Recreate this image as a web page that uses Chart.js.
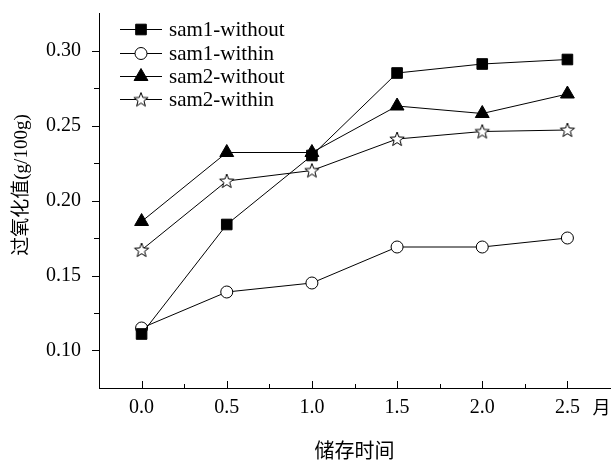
<!DOCTYPE html>
<html>
<head>
<meta charset="utf-8">
<script src="https://cdn.jsdelivr.net/npm/chart.js@4/dist/chart.umd.min.js"></script>
<style>
  html, body { margin: 0; padding: 0; background: #fff; }
  #wrap { width: 612px; height: 466px; }
</style>
</head>
<body>
<div id="wrap"><canvas id="peroxideChart" width="612" height="466"></canvas></div>
<script>
// storage time (months) and peroxide values (g/100g)
const months      = [0.0, 0.5, 1.0, 1.5, 2.0, 2.5];
const sam1Without = [0.111, 0.184, 0.230, 0.285, 0.291, 0.294];
const sam1Within  = [0.115, 0.139, 0.145, 0.169, 0.169, 0.175];
const sam2Without = [0.186, 0.232, 0.232, 0.263, 0.258, 0.271];
const sam2Within  = [0.167, 0.213, 0.220, 0.241, 0.246, 0.247];
const seriesNames = ['sam1-without', 'sam1-within', 'sam2-without', 'sam2-within'];
const xTitle = '储存时间';
const yTitle = '过氧化值(g/100g)';
const xUnit  = '月';

const serif = '"Liberation Serif", "Times New Roman", serif';
const cjk   = '"Noto Sans CJK SC", sans-serif';

// hollow five-point star marker
function makeStar() {
  const c = document.createElement('canvas');
  c.width = 18; c.height = 18;
  const g = c.getContext('2d');
  g.beginPath();
  for (let i = 0; i < 10; i++) {
    const r = i % 2 === 0 ? 7.5 : 3.1;
    const a = -Math.PI / 2 + i * Math.PI / 5;
    const px = 9 + r * Math.cos(a), py = 9.5 + r * Math.sin(a);
    if (i === 0) g.moveTo(px, py); else g.lineTo(px, py);
  }
  g.closePath();
  g.fillStyle = '#fff';
  g.fill();
  g.strokeStyle = '#000';
  g.lineWidth = 1;
  g.stroke();
  return c;
}

const toPoints = vals => months.map((m, i) => ({ x: m, y: vals[i] }));

function series(label, vals, style, radius, fill) {
  return {
    label: label,
    data: toPoints(vals),
    borderColor: '#000',
    borderWidth: 1,
    tension: 0,
    pointStyle: style,
    pointRadius: radius,
    pointHoverRadius: radius,
    pointBackgroundColor: fill,
    pointBorderColor: '#000',
    pointBorderWidth: 1,
  };
}

const isMajor = (v, step) => Math.abs(v / step - Math.round(v / step)) < 1e-6;

// ticks: y outward, x inward, major longer than minor; plus titles and legend
const decorPlugin = {
  id: 'decor',
  afterDraw(chart) {
    const ctx = chart.ctx;
    const xs = chart.scales.x, ys = chart.scales.y;
    const area = chart.chartArea;
    ctx.save();
    ctx.strokeStyle = '#000';
    ctx.lineWidth = 1;
    ctx.beginPath();
    ys.ticks.forEach(t => {
      const p = Math.round(ys.getPixelForValue(t.value)) + 0.5;
      if (p <= area.top + 1 || p >= area.bottom - 1) return;
      const len = isMajor(t.value, 0.05) ? 7 : 5;
      ctx.moveTo(area.left, p);
      ctx.lineTo(area.left - len, p);
    });
    xs.ticks.forEach(t => {
      const p = Math.round(xs.getPixelForValue(t.value)) + 0.5;
      if (p <= area.left + 1 || p >= area.right - 1) return;
      const len = isMajor(t.value, 0.5) ? 7 : 4;
      ctx.moveTo(p, area.bottom);
      ctx.lineTo(p, area.bottom - len);
    });
    ctx.stroke();

    ctx.fillStyle = '#000';
    // unit after last x label
    ctx.font = '18px ' + cjk;
    ctx.textAlign = 'center';
    ctx.textBaseline = 'middle';
    ctx.fillText(xUnit, xs.getPixelForValue(2.5) + 34, 407);

    // y title
    ctx.save();
    ctx.translate(22, 185);
    ctx.rotate(-Math.PI / 2);
    ctx.font = '19px ' + serif + ', ' + cjk;
    ctx.fillText(yTitle, 0, 0);
    ctx.restore();

    // legend
    const rows = [29, 53, 76, 99];
    chart.data.datasets.forEach((ds, i) => {
      const y = rows[i];
      ctx.beginPath();
      ctx.moveTo(120, y + 0.5);
      ctx.lineTo(162, y + 0.5);
      ctx.stroke();
      ctx.fillStyle = ds.pointBackgroundColor;
      ctx.strokeStyle = '#000';
      Chart.helpers.drawPoint(ctx, {
        pointStyle: ds.pointStyle, radius: ds.pointRadius, rotation: 0, borderWidth: 1
      }, 141, y + 0.5);
      ctx.fillStyle = '#000';
      ctx.font = '21px ' + serif;
      ctx.textAlign = 'left';
      ctx.fillText(ds.label, 169, y + 1);
    });
    ctx.restore();
  }
};

new Chart(document.getElementById('peroxideChart'), {
  type: 'line',
  data: {
    datasets: [
      series(seriesNames[0], sam1Without, 'rect', 7.5, '#000'),
      series(seriesNames[1], sam1Within, 'circle', 6, '#fff'),
      series(seriesNames[2], sam2Without, 'triangle', 8, '#000'),
      series(seriesNames[3], sam2Within, makeStar(), 7, '#fff'),
    ]
  },
  options: {
    responsive: false,
    animation: false,
    layout: { autoPadding: false, padding: { top: 13, right: 2, left: 0, bottom: 0 } },
    plugins: {
      legend: { display: false },
      tooltip: { enabled: false },
    },
    scales: {
      x: {
        type: 'linear',
        min: -0.25,
        max: 2.75,
        afterFit: s => { s.height = 78; s.paddingLeft = 0; s.paddingRight = 0; },
        ticks: {
          stepSize: 0.25,
          autoSkip: false,
          maxRotation: 0,
          padding: 0,
          color: '#000',
          font: { family: serif, size: 20 },
          callback: v => (isMajor(v, 0.5) && v >= 0 && v <= 2.5) ? v.toFixed(1) : '',
        },
        // invisible tick marks just to space the labels; real ticks drawn by the plugin
        grid: { drawOnChartArea: false, drawTicks: true, tickLength: 8, tickColor: 'rgba(0,0,0,0)' },
        border: { display: true, color: '#000', width: 1 },
        title: {
          display: true,
          text: xTitle,
          color: '#000',
          font: { family: cjk, size: 20 },
          padding: { top: 14 },
        },
      },
      y: {
        min: 0.075,
        max: 0.325,
        afterFit: s => { s.width = 99; s.paddingTop = 0; s.paddingBottom = 0; },
        ticks: {
          stepSize: 0.025,
          autoSkip: false,
          padding: 0,
          color: '#000',
          font: { family: serif, size: 20 },
          callback: v => isMajor(v, 0.05) ? v.toFixed(2) : '',
        },
        grid: { drawOnChartArea: false, drawTicks: true, tickLength: 18, tickColor: 'rgba(0,0,0,0)' },
        border: { display: true, color: '#000', width: 1 },
      }
    }
  },
  plugins: [decorPlugin]
});
</script>
</body>
</html>
